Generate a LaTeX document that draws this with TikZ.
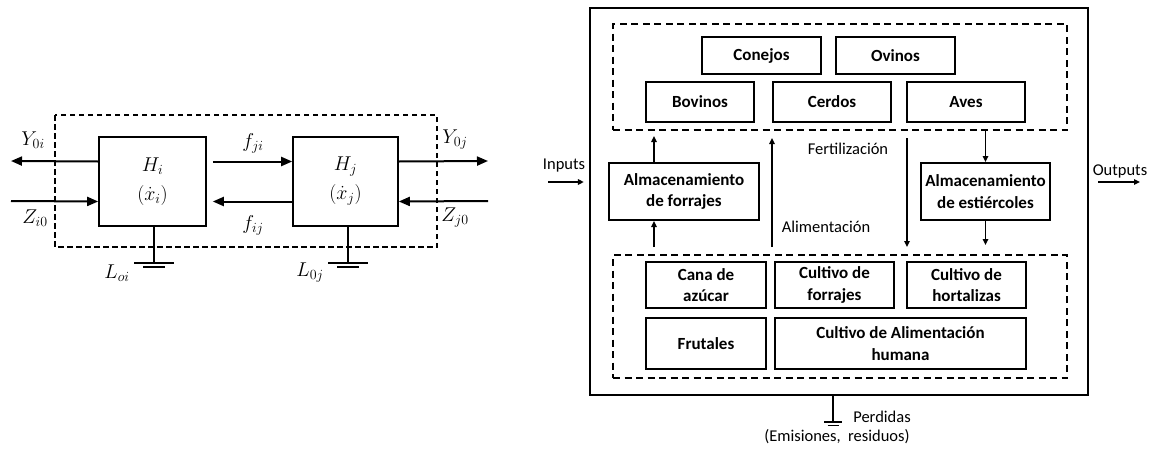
\RequirePackage{fix-cm}
\documentclass[tikz,border=0pt]{standalone}
\usepackage{fontspec}
\setmainfont{Carlito}
\usetikzlibrary{arrows.meta, calc, positioning}
\tikzstyle{hbox}=[draw, line width=1.6pt, minimum width=107pt, minimum height=89pt, align=center, font=\fontsize{20}{29}\selectfont]
\tikzstyle{unit}=[draw, line width=2pt, inner sep=0pt, align=center, font=\bfseries\fontsize{17}{21.5}\selectfont]
\tikzstyle{sector}=[draw, line width=2pt, dash pattern=on 7pt off 4.5pt, inner sep=0pt]
\tikzstyle{flow}=[line width=2pt, -{Triangle[length=11pt,width=9pt]}]
\tikzstyle{feed}=[line width=1.8pt, -{Triangle[length=6pt,width=5.5pt]}]
\tikzstyle{mathlbl}=[font=\fontsize{20}{24}\selectfont]
\tikzstyle{txt}=[font=\fontsize{16.5}{20}\selectfont]

\begin{document}
\begin{tikzpicture}[x=1pt, y=-1pt]
\useasboundingbox (0,0) rectangle (1157,450);
% two interacting units
\node[hbox] (hi) at (152.5,181.5) {$H_i$\\$(\dot{x}_i)$};
\node[hbox, minimum width=105pt] (hj) at (345.5,181.5) {$H_j$\\$(\dot{x}_j)$};
\draw[line width=1.3pt, dash pattern=on 5.5pt off 3.5pt] (55,115) rectangle (437,247);
\coordinate (yoi) at (11,161); \coordinate (zio) at (11,201);
\coordinate (yoj) at (488,161); \coordinate (zjo) at (488,201);
\draw[flow] ([yshift=20pt]hi.west) -- (yoi);
\draw[flow] (zio) -- ([yshift=-20pt]hi.west);
\draw[flow] ([xshift=6pt,yshift=20pt]hi.east) -- ([yshift=20pt]hj.west);
\draw[flow] ([yshift=-20pt]hj.west) -- ([xshift=6pt,yshift=-20pt]hi.east);
\draw[flow] ([yshift=20pt]hj.east) -- (yoj);
\draw[flow] (zjo) -- ([yshift=-20pt]hj.east);
\node[mathlbl] (ly0i) at (33,140) {$Y_{0i}$};
\node[mathlbl] (lzi0) at (35,218) {$Z_{i0}$};
\node[mathlbl] (lfji) at (253,143) {$f_{ji}$};
\node[mathlbl] (lfij) at (253,225) {$f_{ij}$};
\node[mathlbl] (ly0j) at (455,140) {$Y_{0j}$};
\node[mathlbl] (lzj0) at (455,218) {$Z_{j0}$};
% losses
\coordinate (gi) at (154,263); \coordinate (gj) at (348,263);
\draw[line width=1.6pt] (hi.south -| gi) -- (gi) (hj.south -| gj) -- (gj);
\draw[line width=1.6pt] ([xshift=-20pt]gi) -- ([xshift=20pt]gi) ([shift={(-11pt,-4pt)}]gi) -- ([shift={(11pt,-4pt)}]gi);
\draw[line width=1.6pt] ([xshift=-20pt]gj) -- ([xshift=20pt]gj) ([shift={(-11pt,-4pt)}]gj) -- ([shift={(11pt,-4pt)}]gj);
\node[mathlbl] (lloi) at (117,273) {$L_{oi}$};
\node[mathlbl] (ll0j) at (310,273) {$L_{0j}$};

% farm system
\node[draw, line width=2.3pt, minimum width=498pt, minimum height=387pt, inner sep=0pt] (farm) at (839,201.5) {};
\node[sector, minimum width=454pt, minimum height=106pt] (animals) at (840,77) {};
\node[sector, minimum width=454pt, minimum height=123pt] (crops) at (840,316.5) {};
\node[unit, minimum width=119pt, minimum height=37pt] (conejos) at (761.5,55.5) {Conejos};
\node[unit, minimum width=119pt, minimum height=37pt] (ovinos) at (895.5,55.5) {Ovinos};
\node[unit, minimum width=108pt, minimum height=40pt] (bovinos) at (700,102) {Bovinos};
\node[unit, minimum width=118pt, minimum height=40pt] (cerdos) at (832,102) {Cerdos};
\node[unit, minimum width=118pt, minimum height=40pt] (aves) at (966,102) {Aves};
\node[unit, minimum width=150pt, minimum height=57pt] (alfor) at (684,191.5) {Almacenamiento\\de forrajes};
\node[unit, minimum width=129pt, minimum height=57pt] (alest) at (985.5,191.5) {Almacenamiento\\de estiércoles};
\node[unit, minimum width=120pt, minimum height=46pt] (cana) at (706,285) {Cana de\\azúcar};
\node[unit, minimum width=119pt, minimum height=46pt] (cforr) at (834.5,285) {Cultivo de\\forrajes};
\node[unit, minimum width=119pt, minimum height=46pt] (chort) at (966.5,285) {Cultivo de\\hortalizas};
\node[unit, minimum width=120pt, minimum height=51pt] (frutales) at (706,343.5) {Frutales};
\node[unit, minimum width=251pt, minimum height=51pt] (chum) at (900.5,343.5) {Cultivo de Alimentación\\humana};
% flows between sectors
\draw[feed, shorten >=5pt] ([xshift=-30pt]alfor.north) -- ([xshift=-30pt]alfor.north |- animals.south);
\draw[feed, shorten <=7pt] ([xshift=-30pt]alfor.south |- crops.north) -- ([xshift=-30pt]alfor.south);
\coordinate (xal) at (772,0); \coordinate (xfe) at (907,0);
\draw[feed, shorten <=7pt, shorten >=7pt] (crops.north -| xal) -- (animals.south -| xal);
\draw[feed, shorten <=7pt, shorten >=7pt] (animals.south -| xfe) -- (crops.north -| xfe);
\draw[feed] (animals.south -| alest.north) -- (alest.north);
\draw[feed, shorten >=9pt] (alest.south) -- (alest.south |- crops.north);
\node[txt] (lfert) at (848,149) {Fertilización};
\node[txt] (lalim) at (826,227) {Alimentación};
% system boundary
\coordinate (inp) at (548,182); \coordinate (outp) at (1140,182);
\draw[feed, shorten >=5pt] (inp) -- (inp -| farm.west);
\draw[feed, shorten <=9pt] (farm.east |- outp) -- (outp);
\node[txt] (linp) at (564,166) {Inputs};
\node[txt] (lout) at (1120,171) {Outputs};
\coordinate (gf) at (833,422);
\draw[line width=1.8pt] (farm.south -| gf) -- (gf);
\draw[line width=1.8pt] ([xshift=-9pt]gf) -- ([xshift=9pt]gf) ([shift={(-5.5pt,-3.5pt)}]gf) -- ([shift={(5.5pt,-3.5pt)}]gf);
\node[txt] (lperd) at (882,417) {Perdidas};
\node[txt] (lemis) at (837,437) {(Emisiones,~~residuos)};
\end{tikzpicture}
\end{document}
